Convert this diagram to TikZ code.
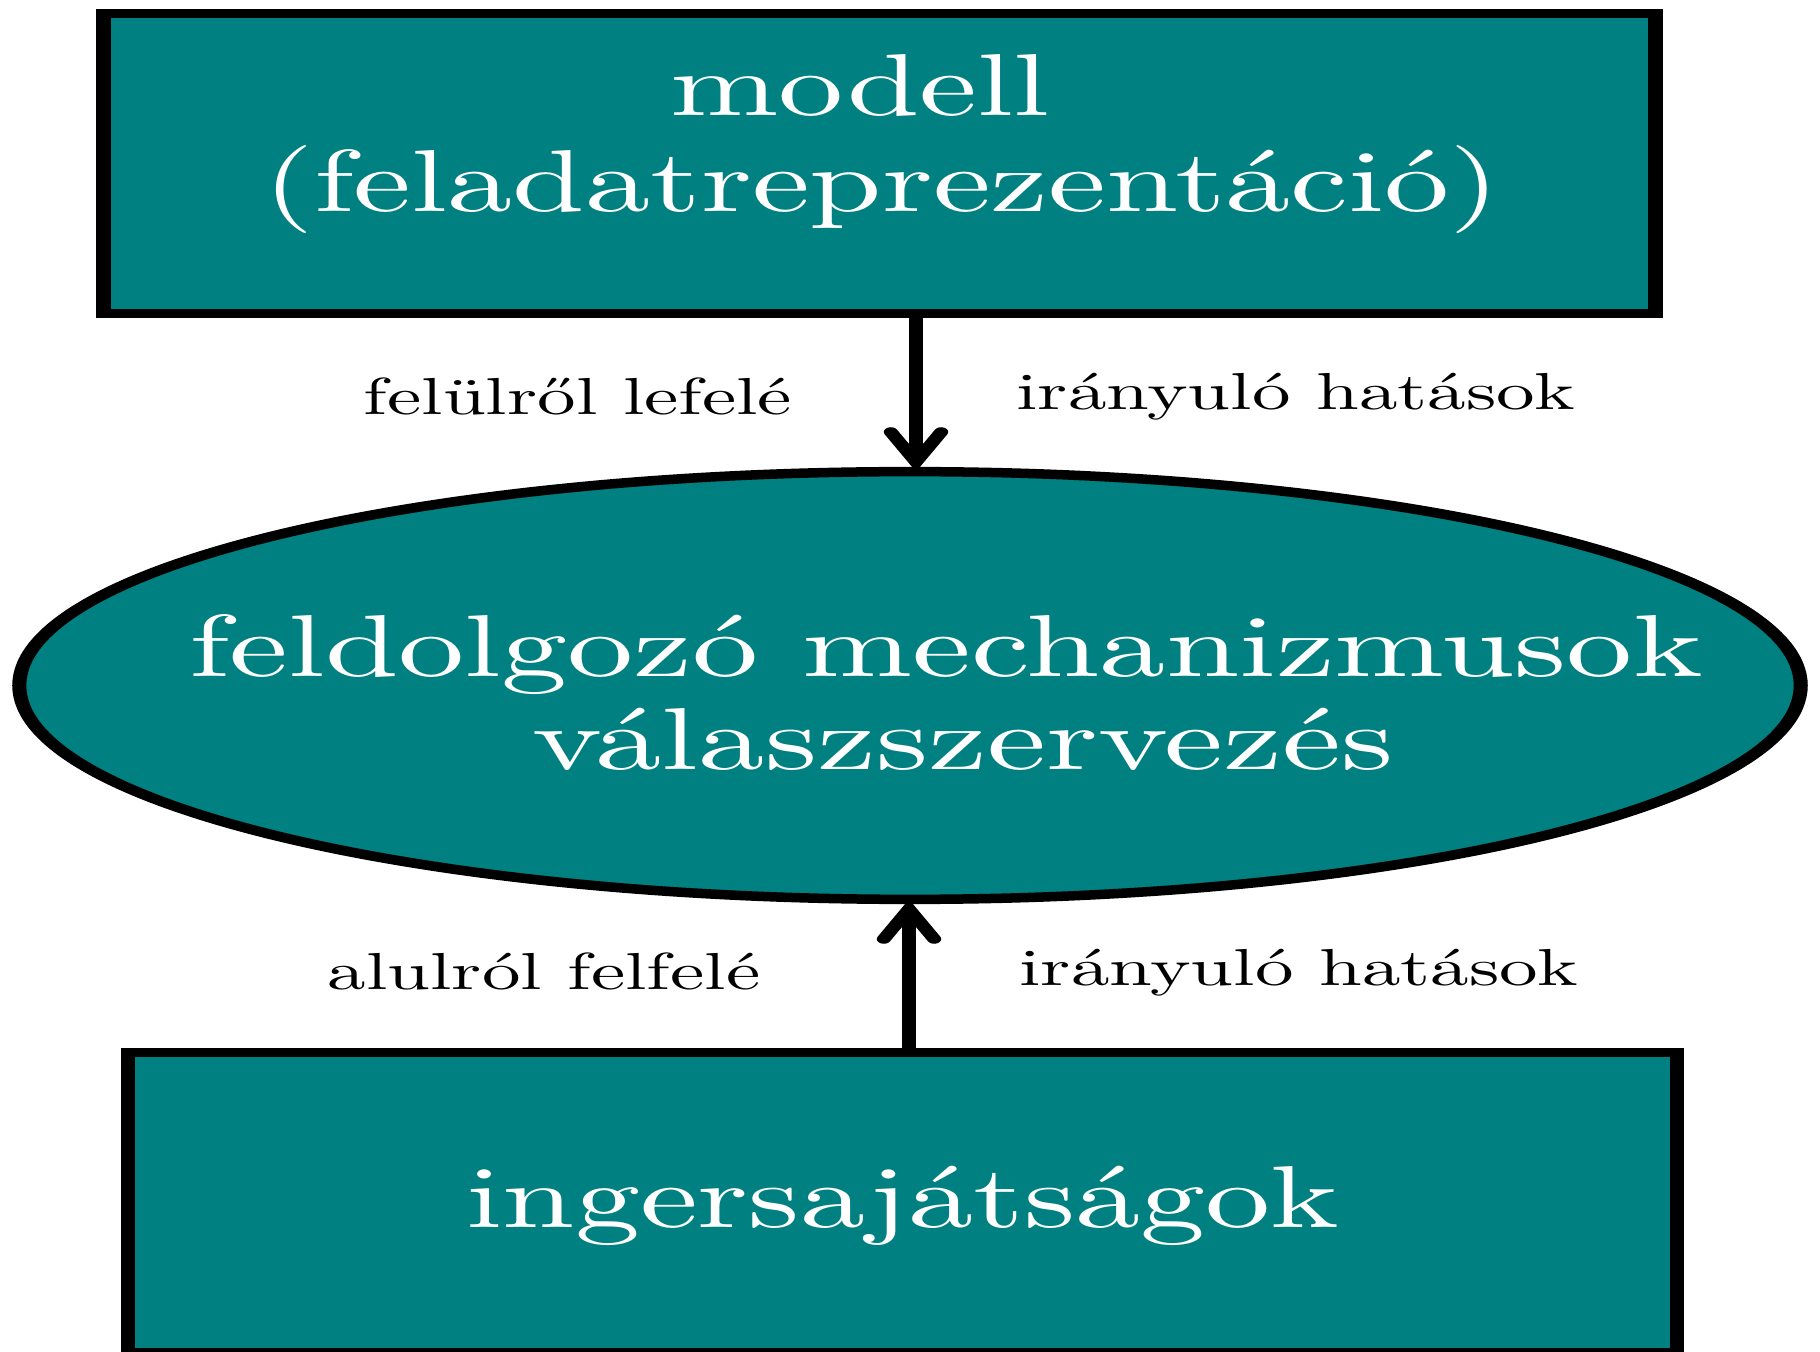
\documentclass[tikz,border=0pt]{standalone}
\usepackage{fontspec}
\setmainfont{lmroman10-regular}[Extension=.otf]
\usetikzlibrary{arrows.meta,shapes.geometric}
\definecolor{tealbox}{RGB}{0,128,128}
\begin{document}
\begin{tikzpicture}[x=0.01cm,y=-0.01cm]
\useasboundingbox[fill=white] (0,0) rectangle (1820,1352);
\begin{scope}[transform canvas={xscale=1.48},
  box/.style={draw=black, fill=tealbox, line width=0.095cm, rectangle, inner sep=0pt, outer sep=0pt},
  oval/.style={draw=black, fill=tealbox, line width=0.095cm, ellipse, inner sep=0pt, outer sep=0pt},
  bigtxt/.style={text=white, font=\fontsize{25}{30}\selectfont, anchor=base, inner sep=0pt},
  lbl/.style={text=black, font=\fontsize{14.8}{18}\selectfont, anchor=base, inner sep=0pt},
  arr/.style={line width=0.095cm, -{Straight Barb[length=0.30cm, width=0.34cm, line cap=round]}}]
\node[box, minimum width=10.48cm, minimum height=3cm] (model) at (879.5/1.48, 163.5) {};
\node[oval, minimum width=12.03cm, minimum height=4.275cm] (proc) at (910/1.48, 685.5) {};
\node[box, minimum width=10.466cm, minimum height=3cm] (stim) at (902.5/1.48, 1202.75) {};
\coordinate (ax1) at (916/1.48, 0);
\coordinate (ax2) at (909/1.48, 0);
\draw[arr] (ax1 |- model.south) -- (ax1 |- proc.north);
\draw[arr] (ax2 |- stim.north) -- (ax2 |- proc.south);
\node[bigtxt] (t1) at (860/1.48, 116) {modell};
\node[bigtxt] (t2) at (882/1.48, 212) {(feladatreprezentáció)};
\node[bigtxt] (t3) at (946/1.48, 677) {\scalebox{1.016}[1]{feldolgozó mechanizmusok}};
\node[bigtxt] (t4) at (963/1.48, 770) {\scalebox{1.019}[1]{válaszszervezés}};
\node[bigtxt] (t5) at (903/1.48, 1228) {ingersajátságok};
\node[lbl] (l1) at (578/1.48, 415) {felülről lefelé};
\node[lbl] (l2) at (1296/1.48, 410) {irányuló hatások};
\node[lbl] (l3) at (544/1.48, 989) {alulról felfelé};
\node[lbl] (l4) at (1299/1.48, 985) {irányuló hatások};
\end{scope}
\end{tikzpicture}
\end{document}
